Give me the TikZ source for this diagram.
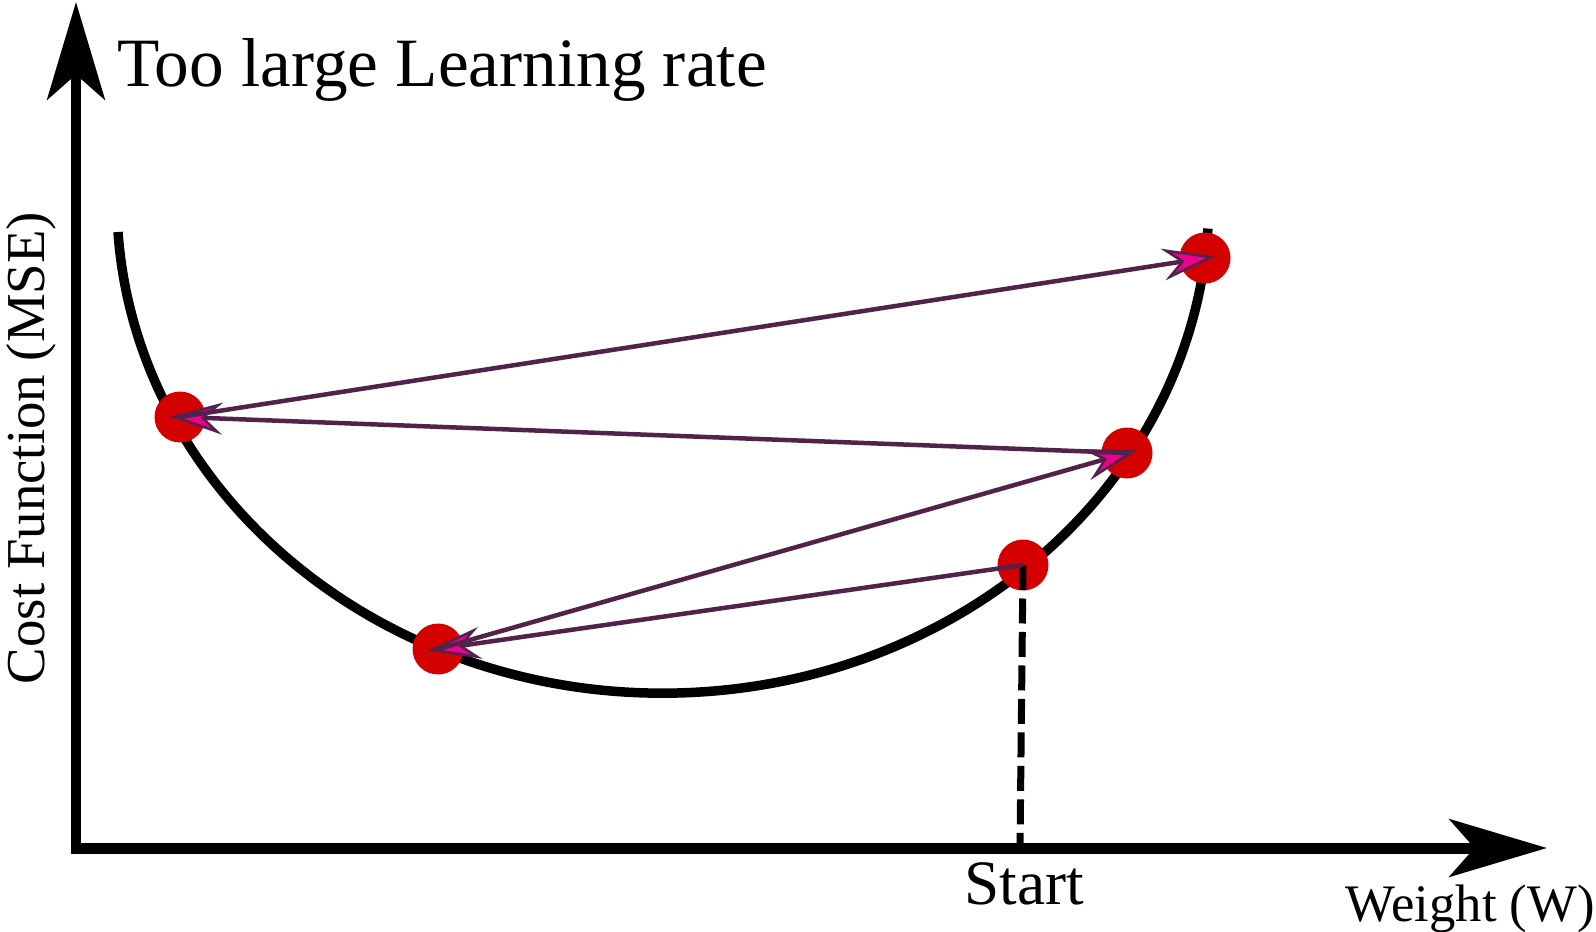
\documentclass[tikz,border=0pt]{standalone}
\usepackage{fontspec}
\setmainfont{Liberation Serif}
\usetikzlibrary{arrows.meta}

\definecolor{dotred}{RGB}{212,0,0}
\definecolor{plum}{RGB}{83,34,74}

\begin{document}
\begin{tikzpicture}[x=0.02cm, y=-0.02cm,
    axis/.style={line width=0.22cm,
                 {Stealth[length=1.95cm, width=1.15cm, inset=0.5cm]}-{Stealth[length=1.95cm, width=1.15cm, inset=0.5cm]}},
    dot/.style={circle, fill=dotred, minimum size=1.02cm, inner sep=0pt},
    jump/.style={draw=plum, line width=0.09cm, shorten >=-0.2cm,
                 -{Stealth[length=1.05cm, width=0.64cm, inset=0.36cm, line width=0.05cm, fill=magenta]}}]
    \useasboundingbox (0,0) rectangle (1596,932);

    % axes
    \coordinate (ytip) at (76,2);
    \coordinate (xtip) at (1547,848);
    \draw[axis] (ytip) |- (xtip);

    % cost curve
    \draw[line width=0.19cm] (118,232)
        arc[start angle=176.3, end angle=3.3, x radius=546, y radius=493];

    % weights
    \node[dot] (w0) at (1023,565) {};
    \node[dot] (w1) at (438,649) {};
    \node[dot] (w2) at (1127,453) {};
    \node[dot] (w3) at (180,417) {};
    \node[dot] (w4) at (1205,258) {};

    \coordinate (foot) at (1020,848);
    \draw[line width=0.14cm, dash pattern=on 0.5cm off 0.17cm] (w0.center) -- (foot);

    \draw[jump] (w0.center) -- (w1.center);
    \draw[jump] (w1.center) -- (w2.center);
    \draw[jump] (w2.center) -- (w3.center);
    \draw[jump] (w3.center) -- (w4.center);

    % labels
    \node[anchor=base west, inner sep=0pt, font=\fontsize{39.4}{46}\selectfont] (title) at (117,87) {Too large Learning rate};
    \node[rotate=90, anchor=base, inner sep=0pt, font=\fontsize{31.2}{36}\selectfont] (ylabel) at (44,448) {Cost Function (MSE)};
    \node[anchor=base, inner sep=0pt, font=\fontsize{36}{42}\selectfont] (start) at (1024,904) {Start};
    \node[anchor=base east, inner sep=0pt, font=\fontsize{30}{36}\selectfont] (xlabel) at (1595,921) {Weight (W)};
\end{tikzpicture}
\end{document}
